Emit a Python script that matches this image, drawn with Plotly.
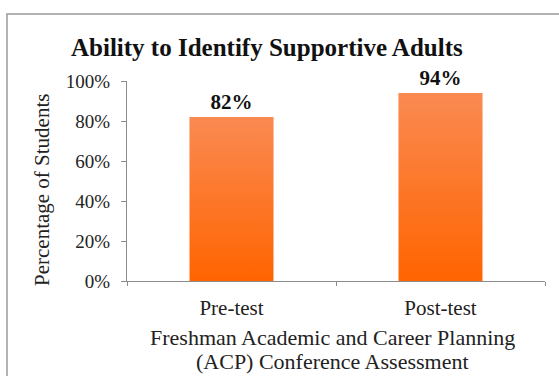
import plotly.graph_objects as go

categories = ["Pre-test", "Post-test"]
values = [82, 94]
value_labels = ["<b>82%</b>", "<b>94%</b>"]
y_tick_vals = [0, 20, 40, 60, 80, 100]
y_tick_text = ["0%", "20%", "40%", "60%", "80%", "100%"]
x_title_lines = ["Freshman Academic and Career Planning", "(ACP) Conference Assessment"]

W, H = 559, 376
L, R, T, B = 127, 14, 81, 95
pw, ph = W - L - R, H - T - B
BAR_W = 0.4

def px(x):
    return (x - L) / pw

def py(y):
    return (H - B - y) / ph

FONT = "Liberation Serif"

fig = go.Figure()
fig.add_trace(go.Bar(
    x=categories, y=values, width=BAR_W,
    marker=dict(color="#FC7630", line=dict(width=0)),
    text=value_labels, textposition="outside",
    textfont=dict(family=FONT, size=21, color="#111"),
    cliponaxis=False, hoverinfo="skip",
))

# gradient overlay for each bar, built from the same data on a matching numeric axis
for i, v in enumerate(values):
    fig.add_trace(go.Scatter(
        x=[i - BAR_W / 2, i + BAR_W / 2, i + BAR_W / 2, i - BAR_W / 2],
        y=[0, 0, v, v],
        xaxis="x2", yaxis="y",
        mode="lines", line=dict(width=0, color="rgba(0,0,0,0)"),
        fill="toself",
        fillgradient=dict(type="vertical",
                          colorscale=[[0, "#FF6400"], [1, "#FA8A52"]]),
        hoverinfo="skip",
    ))

annotations = [
    dict(text="<b>Ability to Identify Supportive Adults</b>", xref="paper", yref="paper",
         x=px(267), y=py(47), xanchor="center", yanchor="middle", showarrow=False,
         font=dict(family=FONT, size=25, color="#111")),
    dict(text="Percentage of Students", xref="paper", yref="paper",
         x=px(42), y=py(190), xanchor="center", yanchor="middle",
         textangle=-90, showarrow=False,
         font=dict(family=FONT, size=21, color="#222")),
]
for line, yy in zip(x_title_lines, [337, 361]):
    annotations.append(dict(text=line, xref="paper", yref="paper", x=px(332), y=py(yy),
                            xanchor="center", yanchor="middle", showarrow=False,
                            font=dict(family=FONT, size=22, color="#222")))

fig.update_layout(
    width=W, height=H,
    margin=dict(l=L, r=R, t=T, b=B),
    paper_bgcolor="white", plot_bgcolor="white",
    font=dict(family=FONT, color="#222"),
    showlegend=False,
    bargap=0.6,
    xaxis=dict(
        showline=True, linecolor="#8c8c8c", linewidth=1,
        ticks="outside", tickson="boundaries", ticklen=4, tickcolor="#8c8c8c",
        tickfont=dict(family=FONT, size=21, color="#222"),
        ticklabelstandoff=8,
        showgrid=False,
    ),
    xaxis2=dict(
        overlaying="x", range=[-0.5, len(categories) - 0.5],
        visible=False, showgrid=False, zeroline=False,
    ),
    yaxis=dict(
        range=[0, 100], tickvals=y_tick_vals, ticktext=y_tick_text,
        showline=True, linecolor="#8c8c8c", linewidth=1,
        ticks="outside", ticklen=5, tickcolor="#8c8c8c",
        tickfont=dict(family=FONT, size=19, color="#222"),
        ticklabelstandoff=7,
        showgrid=False, zeroline=False,
    ),
    shapes=[dict(type="rect", xref="paper", yref="paper",
                 x0=px(7), x1=px(W + 20), y0=py(14), y1=py(H + 20),
                 line=dict(color="#9a9a9a", width=1.5))],
    annotations=annotations,
)

fig.write_html("out.html")
